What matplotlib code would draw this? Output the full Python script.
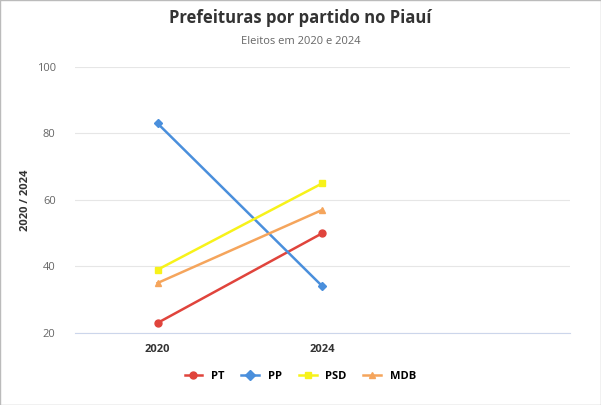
import matplotlib.pyplot as plt
from matplotlib.lines import Line2D

plt.rcParams['font.family'] = ['Open Sans', 'DejaVu Sans']

years = ['2020', '2024']
pt = [23, 50]
pp = [83, 34]
psd = [39, 65]
mdb = [35, 57]

fig = plt.figure(figsize=(6.01, 4.05), dpi=100)
ax = fig.add_axes([0.125, 0.178, 0.823, 0.657])

series = [
    ('PT', pt, '#e0443c', 'o'),
    ('PP', pp, '#4a8fdc', 'D'),
    ('PSD', psd, '#f7f21a', 's'),
    ('MDB', mdb, '#f5a55c', '^'),
]
x = list(range(len(years)))
for name, vals, color, mk in series:
    ax.plot(x, vals, color=color, marker=mk, markersize=5 if mk != 'D' else 4,
            linewidth=1.8, label=name)

ax.set_xlim(-0.5, 2.5)
ax.set_ylim(20, 100)
ax.set_yticks([20, 40, 60, 80, 100])
ax.set_xticks(x)
ax.set_xticklabels(years, fontsize=8, fontweight='bold', color='#333333')
ax.tick_params(axis='y', labelsize=8, colors='#666666', length=0, pad=14)
ax.tick_params(axis='x', length=0, pad=8)
ax.grid(axis='y', color='#e6e6e6', linewidth=0.8)
ax.set_axisbelow(True)
for s in ['top', 'right', 'left']:
    ax.spines[s].set_visible(False)
ax.spines['bottom'].set_color('#ccd6eb')
ax.set_ylabel('2020 / 2024', fontsize=8, fontweight='bold', color='#333333')

fig.text(0.5, 0.955, 'Prefeituras por partido no Piauí', ha='center', va='center',
         fontsize=12, fontweight='bold', color='#333333')
fig.text(0.5, 0.898, 'Eleitos em 2020 e 2024', ha='center', va='center',
         fontsize=8, color='#666666')

handles = [Line2D([0], [0], color=c, marker=m, linewidth=1.8, markersize=5)
           for _, _, c, m in series]
fig.legend(handles, [s[0] for s in series], loc='center', bbox_to_anchor=(0.5, 0.07),
           ncol=4, frameon=False, prop={'size': 8, 'weight': 'bold'},
           handlelength=1.6, columnspacing=1.5)

border = plt.Rectangle((0, 0), 1, 1, transform=fig.transFigure, fill=False,
                       edgecolor='#bbbbbb', linewidth=1)
fig.patches.append(border)

fig.savefig('out.png', dpi=100)
